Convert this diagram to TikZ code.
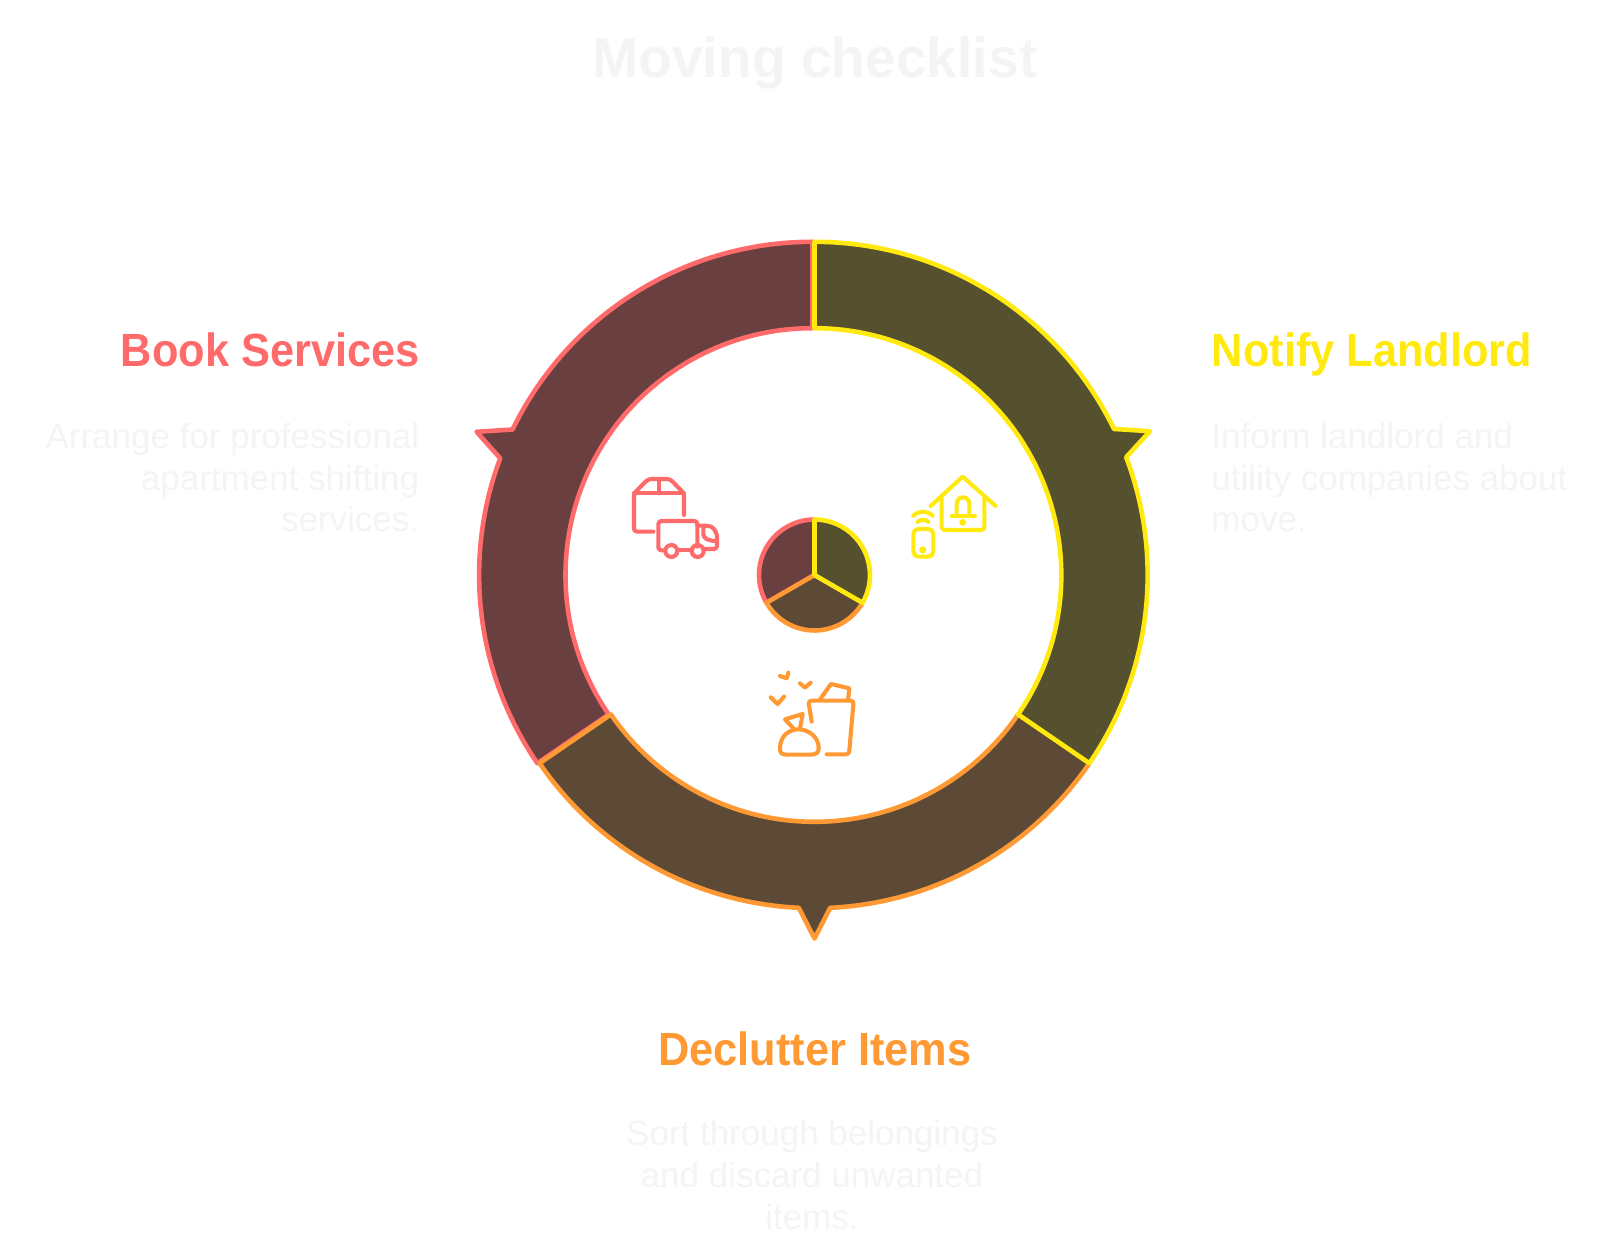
\documentclass[tikz,border=0pt]{standalone}
\usepackage{fontspec}
\setmainfont{Liberation Sans}
\newfontfamily\headfont[FakeStretch=0.93]{Liberation Sans Bold}
\newfontfamily\titlefont[FakeStretch=0.986]{Liberation Sans Bold}
\definecolor{cred}{HTML}{FF6B6B}
\definecolor{cyel}{HTML}{FFE90F}
\definecolor{corg}{HTML}{FF9933}
\definecolor{fred}{HTML}{693F3F}
\definecolor{fyel}{HTML}{55502E}
\definecolor{forg}{HTML}{5C4A37}
\definecolor{ghost}{HTML}{F4F4F4}
\tikzset{
  seg/.style={line width=2.3pt,line join=round},
  ico/.style={line width=2.05pt,line cap=round,line join=round,fill=none},
  titletext/.style={inner sep=0pt,font=\titlefont\fontsize{28pt}{34pt}\selectfont,text=ghost},
  headtext/.style={inner sep=0pt,font=\headfont\fontsize{23.3pt}{30pt}\selectfont},
  bodytext/.style={inner sep=0pt,font=\fontsize{17.5pt}{20.9pt}\selectfont,text=ghost}
}
\begin{document}
\begin{tikzpicture}[x=0.5pt,y=0.5pt]
\useasboundingbox (-814.5,-682) rectangle (785.5,575);
\def\Ro{166.6pt}
\def\Ri{123.4pt}
% ring segments
\begin{scope}[xshift=-1.1pt]
\draw[seg,draw=cred,fill=fred] (90:333.2) arc[start angle=90,end angle=154.1,radius=\Ro] -- (156.9:365) -- (159.5:333.2) arc[start angle=159.5,end angle=214.4,radius=\Ro] -- (214.4:246.8) arc[start angle=214.4,end angle=90,radius=\Ri] -- cycle;
\end{scope}
\draw[seg,draw=corg,fill=forg] (214.4:333.2) arc[start angle=214.4,end angle=267.3,radius=\Ro] -- (270:363.5) -- (272.7:333.2) arc[start angle=272.7,end angle=325.6,radius=\Ro] -- (325.6:246.8) arc[start angle=325.6,end angle=214.4,radius=\Ri] -- cycle;
\draw[seg,draw=cyel,fill=fyel] (90:333.2) arc[start angle=90,end angle=26,radius=\Ro] -- (23.2:365) -- (20.7:333.2) arc[start angle=20.7,end angle=-34.4,radius=\Ro] -- (-34.4:246.8) arc[start angle=-34.4,end angle=90,radius=\Ri] -- cycle;
% centre pie
\draw[seg,draw=cred,fill=fred] (0,0) -- (90:55.5) arc[start angle=90,end angle=210,radius=27.75pt] -- cycle;
\draw[seg,draw=corg,fill=forg] (0,0) -- (210:55.5) arc[start angle=210,end angle=330,radius=27.75pt] -- cycle;
\draw[seg,draw=cyel,fill=fyel] (0,0) -- (330:55.5) arc[start angle=330,end angle=450,radius=27.75pt] -- cycle;
% truck and box icon
\begin{scope}[shift={(-97.25pt,55pt)},x=0.16667pt,y=-0.16667pt,ico,draw=cred]
\draw[rounded corners=1.5pt] (100,200) -- (42,200) -- (42,85) -- (85,42) -- (150,42) -- (192,85) -- (192,150);
\draw (42,85) -- (192,85) (117,42) -- (117,85);
\draw[rounded corners=1.5pt] (135,256) -- (115,256) -- (115,168) -- (232,168) -- (232,245);
\draw (172,256) -- (217,256);
\draw (154,258) circle[radius=3pt] (233,258) circle[radius=3pt];
\draw[rounded corners=1.5pt] (232,182) -- (262,182) .. controls (278,186) and (290,200) .. (291,220) -- (291,252) -- (250,252);
\draw (250,186) -- (250,208) .. controls (252,220) and (262,228) .. (291,228);
\end{scope}
% house and phone icon
\begin{scope}[shift={(42.75pt,55pt)},x=0.16667pt,y=-0.16667pt,ico,draw=cyel]
\draw (92,123) -- (188,35) -- (287,123);
\draw[rounded corners=1.5pt] (125,100) -- (125,195) -- (253,195) -- (253,100);
\draw (170,150) -- (170,118) .. controls (170,90) and (208,90) .. (208,118) -- (208,150);
\draw (155,153) -- (225,153);
\fill[cyel] (188,172) circle[radius=1.7pt];
\draw[rounded corners=2.5pt] (40,192) rectangle (100,275);
\fill[cyel] (68,255) circle[radius=1.8pt];
\draw (40,152) .. controls (58,136) and (80,136) .. (98,152);
\draw (53,171) .. controls (62,162) and (76,162) .. (85,171);
\end{scope}
% bin and bag icon
\begin{scope}[shift={(-27.25pt,-42.5pt)},x=0.16667pt,y=-0.16667pt,ico,draw=corg]
\draw (32,112) -- (53,132) -- (72,110);
\draw (120,70) -- (135,83) -- (152,68);
\draw (60,48) -- (80,55) -- (85,38);
\draw[rounded corners=1.5pt] (155,185) -- (145,122) -- (281,122) -- (267,283) -- (200,283);
\draw (180,118) -- (213,72) -- (268,85) -- (264,120);
\draw (100,205) -- (75,178) -- (128,162) -- (120,205);
\draw (60,262) .. controls (62,225) and (90,208) .. (115,208) .. controls (145,208) and (175,230) .. (176,262) .. controls (177,278) and (170,284) .. (150,284) -- (80,284) .. controls (65,284) and (58,278) .. (60,262) -- cycle;
\end{scope}
% text
\begin{scope}[x=0.5pt,y=-0.5pt,shift={(-814.5,-575)}]
\node[titletext,anchor=base] (title) at (815,77.5) {Moving checklist};
\node[headtext,text=cred,anchor=base east] (bookhead) at (420,367) {Book Services};
\node[headtext,text=cyel,anchor=base west] (notifyhead) at (1211.5,367) {Notify Landlord};
\node[headtext,text=corg,anchor=base] (declutterhead) at (815,1065) {Declutter Items};
\node[bodytext,align=right,anchor=base east] (bookbody) at (419.5,532) {Arrange for professional\\apartment shifting\\services.};
\node[bodytext,align=left,anchor=base west] (notifybody) at (1211,532) {Inform landlord and\\utility companies about\\move.};
\node[bodytext,align=center,anchor=base] (declutterbody) at (812,1229.5) {Sort through belongings\\and discard unwanted\\items.};
\end{scope}
\end{tikzpicture}
\end{document}
